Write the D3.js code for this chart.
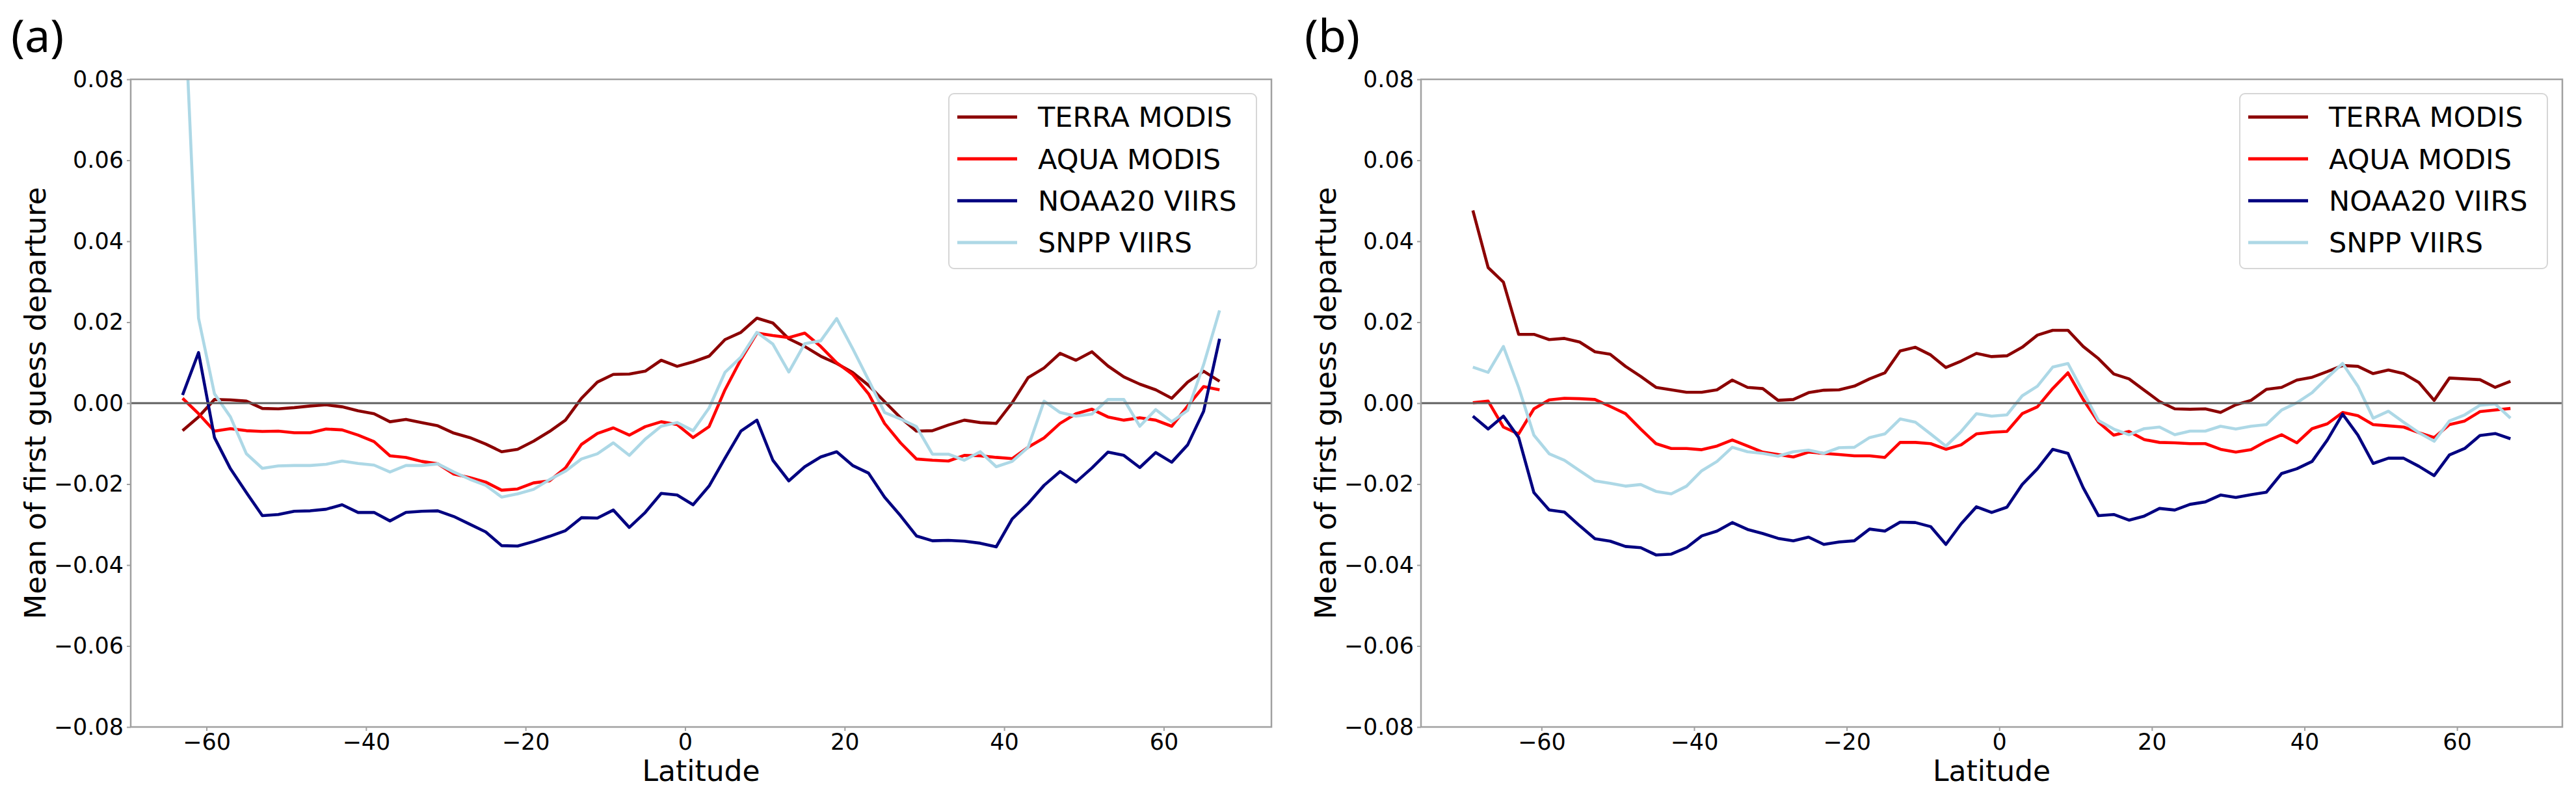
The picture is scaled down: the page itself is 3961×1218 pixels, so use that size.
<!DOCTYPE html>
<html>
<head>
<meta charset="utf-8">
<script src="https://cdn.jsdelivr.net/npm/d3@7"></script>
<style>
  html, body { margin: 0; padding: 0; background: #ffffff; }
  svg { display: block; }
  text { font-family: "DejaVu Sans", sans-serif; }
</style>
</head>
<body>
<svg id="chart" width="3961" height="1218"></svg>
<script>
// ---------------- data ----------------
const seriesNames = ["TERRA MODIS", "AQUA MODIS", "NOAA20 VIIRS", "SNPP VIIRS"];
const seriesColors = ["#8b0000", "#ff0000", "#000080", "#add8e6"];

const xTickValues = [-60, -40, -20, 0, 20, 40, 60];
const yTickValues = [-0.08, -0.06, -0.04, -0.02, 0.00, 0.02, 0.04, 0.06, 0.08];
const panelLabels = ["(a)", "(b)"];
const xAxisTitle = "Latitude";
const yAxisTitle = "Mean of first guess departure";

// Panel (a)
const latA = [-63,-61,-59,-57,-55,-53,-51,-49,-47,-45,-43,-41,-39,-37,-35,-33,-31,-29,-27,-25,-23,-21,-19,-17,-15,-13,-11,-9,-7,-5,-3,-1,
  1,3,5,7,9,11,13,15,17,19,21,23,25,27,29,31,33,35,37,39,41,43,45,47,49,51,53,55,57,59,61,63,65,67];
const terraA = [-0.0068,-0.0034,0.0009,0.0008,0.0005,-0.0013,-0.0014,-0.0011,-0.0007,-0.0004,-0.0009,-0.0019,-0.0026,-0.0046,-0.0040,-0.0048,-0.0056,-0.0074,-0.0085,-0.0101,-0.0120,-0.0114,-0.0094,-0.0070,-0.0042,0.0012,0.0052,0.0071,0.0072,0.0079,0.0106,0.0091,
  0.0102,0.0116,0.0157,0.0175,0.0210,0.0198,0.0159,0.0140,0.0116,0.0098,0.0076,0.0044,0.0004,-0.0036,-0.0069,-0.0068,-0.0054,-0.0042,-0.0048,-0.0050,0.0001,0.0063,0.0087,0.0123,0.0106,0.0127,0.0092,0.0065,0.0047,0.0033,0.0012,0.0052,0.0079,0.0054];
const aquaA = [0.0012,-0.0026,-0.0069,-0.0063,-0.0068,-0.0070,-0.0069,-0.0073,-0.0073,-0.0064,-0.0066,-0.0079,-0.0095,-0.0130,-0.0134,-0.0144,-0.0150,-0.0175,-0.0184,-0.0195,-0.0215,-0.0212,-0.0197,-0.0192,-0.0160,-0.0102,-0.0075,-0.0061,-0.0079,-0.0058,-0.0046,-0.0053,
  -0.0085,-0.0058,0.0033,0.0108,0.0173,0.0167,0.0162,0.0173,0.0140,0.0100,0.0071,0.0023,-0.0050,-0.0098,-0.0138,-0.0141,-0.0143,-0.0129,-0.0130,-0.0134,-0.0137,-0.0109,-0.0086,-0.0050,-0.0026,-0.0015,-0.0034,-0.0042,-0.0036,-0.0042,-0.0057,-0.0007,0.0041,0.0033];
const noaaA = [0.0020,0.0125,-0.0085,-0.0162,-0.0221,-0.0278,-0.0275,-0.0267,-0.0266,-0.0262,-0.0251,-0.0270,-0.0270,-0.0291,-0.0270,-0.0267,-0.0266,-0.0280,-0.0299,-0.0318,-0.0352,-0.0353,-0.0342,-0.0329,-0.0315,-0.0283,-0.0284,-0.0264,-0.0307,-0.0270,-0.0223,-0.0227,
  -0.0251,-0.0205,-0.0136,-0.0069,-0.0042,-0.0141,-0.0192,-0.0157,-0.0133,-0.0120,-0.0154,-0.0173,-0.0232,-0.0278,-0.0328,-0.0340,-0.0339,-0.0341,-0.0346,-0.0355,-0.0286,-0.0248,-0.0203,-0.0169,-0.0195,-0.0160,-0.0121,-0.0129,-0.0159,-0.0122,-0.0146,-0.0103,-0.0020,0.0159];
const snppA = [0.1100,0.0210,0.0023,-0.0034,-0.0125,-0.0161,-0.0155,-0.0154,-0.0154,-0.0151,-0.0143,-0.0149,-0.0153,-0.0170,-0.0154,-0.0154,-0.0150,-0.0170,-0.0188,-0.0203,-0.0232,-0.0224,-0.0213,-0.0189,-0.0168,-0.0138,-0.0125,-0.0098,-0.0129,-0.0089,-0.0057,-0.0048,
  -0.0068,-0.0012,0.0076,0.0114,0.0175,0.0146,0.0077,0.0147,0.0154,0.0209,0.0135,0.0057,-0.0023,-0.0039,-0.0058,-0.0126,-0.0126,-0.0141,-0.0120,-0.0157,-0.0144,-0.0109,0.0005,-0.0023,-0.0032,-0.0027,0.0009,0.0009,-0.0057,-0.0016,-0.0046,-0.0018,0.0095,0.0229];

// Panel (b)
const latB = [-69,-67,-65,-63,-61,-59,-57,-55,-53,-51,-49,-47,-45,-43,-41,-39,-37,-35,-33,-31,-29,-27,-25,-23,-21,-19,-17,-15,-13,-11,-9,-7,-5,-3,-1,
  1,3,5,7,9,11,13,15,17,19,21,23,25,27,29,31,33,35,37,39,41,43,45,47,49,51,53,55,57,59,61,63,65,67];
const terraB = [0.0476,0.0335,0.0299,0.0170,0.0170,0.0157,0.0160,0.0151,0.0127,0.0121,0.0091,0.0066,0.0039,0.0033,0.0027,0.0027,0.0033,0.0057,0.0039,0.0036,0.0007,0.0009,0.0026,0.0032,0.0033,0.0042,0.0060,0.0075,0.0129,0.0138,0.0119,0.0088,0.0104,0.0123,0.0115,
  0.0117,0.0138,0.0168,0.0180,0.0180,0.0140,0.0110,0.0072,0.0060,0.0032,0.0004,-0.0014,-0.0015,-0.0014,-0.0023,-0.0004,0.0007,0.0034,0.0039,0.0057,0.0064,0.0078,0.0093,0.0091,0.0073,0.0082,0.0073,0.0051,0.0007,0.0062,0.0060,0.0058,0.0039,0.0054];
const aquaB = [0.0001,0.0005,-0.0059,-0.0076,-0.0014,0.0008,0.0012,0.0011,0.0009,-0.0008,-0.0026,-0.0064,-0.0100,-0.0112,-0.0112,-0.0115,-0.0106,-0.0091,-0.0106,-0.0121,-0.0127,-0.0133,-0.0121,-0.0124,-0.0127,-0.0130,-0.0130,-0.0134,-0.0097,-0.0097,-0.0100,-0.0114,-0.0103,-0.0076,-0.0072,
  -0.0070,-0.0026,-0.0009,0.0036,0.0075,0.0009,-0.0047,-0.0079,-0.0070,-0.0090,-0.0097,-0.0098,-0.0100,-0.0100,-0.0114,-0.0121,-0.0115,-0.0094,-0.0078,-0.0098,-0.0063,-0.0051,-0.0023,-0.0031,-0.0053,-0.0056,-0.0059,-0.0073,-0.0085,-0.0053,-0.0044,-0.0021,-0.0017,-0.0013];
const noaaB = [-0.0032,-0.0064,-0.0032,-0.0085,-0.0221,-0.0264,-0.0269,-0.0303,-0.0335,-0.0341,-0.0354,-0.0357,-0.0375,-0.0373,-0.0357,-0.0328,-0.0316,-0.0295,-0.0312,-0.0322,-0.0334,-0.0340,-0.0331,-0.0349,-0.0343,-0.0340,-0.0311,-0.0316,-0.0294,-0.0295,-0.0305,-0.0349,-0.0298,-0.0256,-0.0270,
  -0.0257,-0.0201,-0.0162,-0.0114,-0.0124,-0.0209,-0.0278,-0.0275,-0.0289,-0.0279,-0.0260,-0.0264,-0.0250,-0.0244,-0.0227,-0.0233,-0.0226,-0.0220,-0.0174,-0.0162,-0.0144,-0.0091,-0.0027,-0.0079,-0.0149,-0.0136,-0.0136,-0.0156,-0.0179,-0.0128,-0.0112,-0.0080,-0.0075,-0.0088];
const snppB = [0.0089,0.0076,0.0140,0.0039,-0.0079,-0.0125,-0.0141,-0.0167,-0.0192,-0.0198,-0.0205,-0.0201,-0.0218,-0.0224,-0.0205,-0.0167,-0.0144,-0.0109,-0.0120,-0.0124,-0.0131,-0.0120,-0.0116,-0.0124,-0.0110,-0.0109,-0.0085,-0.0076,-0.0039,-0.0047,-0.0076,-0.0106,-0.0070,-0.0026,-0.0032,
  -0.0029,0.0018,0.0042,0.0089,0.0098,0.0027,-0.0043,-0.0064,-0.0078,-0.0063,-0.0059,-0.0078,-0.0069,-0.0069,-0.0057,-0.0064,-0.0057,-0.0053,-0.0017,0.0001,0.0026,0.0063,0.0098,0.0042,-0.0037,-0.0020,-0.0047,-0.0073,-0.0094,-0.0044,-0.0029,-0.0005,-0.0002,-0.0037];

// ---------------- drawing ----------------
const svg = d3.select("#chart");
svg.append("rect").attr("width", 3961).attr("height", 1218).attr("fill", "#fff");

const panels = [
  { id: "a", left: 201, right: 1955, lat: latA, series: [terraA, aquaA, noaaA, snppA], label: panelLabels[0], labelX: 17 },
  { id: "b", left: 2185, right: 3940, lat: latB, series: [terraB, aquaB, noaaB, snppB], label: panelLabels[1], labelX: 2006 }
];
const plotTop = 122, plotBottom = 1118;
const spineColor = "#a0a0a0";
const fmtY = d => (d < 0 ? "\u2212" : "") + Math.abs(d).toFixed(2);

panels.forEach(p => {
  const latMin = d3.min(p.lat), latMax = d3.max(p.lat);
  const pad = (latMax - latMin) * 0.05;
  const x = d3.scaleLinear().domain([latMin - pad, latMax + pad]).range([p.left, p.right]);
  const y = d3.scaleLinear().domain([-0.08, 0.08]).range([plotBottom, plotTop]);

  const g = svg.append("g");

  g.append("clipPath").attr("id", "clip-" + p.id)
    .append("rect").attr("x", p.left).attr("y", plotTop)
    .attr("width", p.right - p.left).attr("height", plotBottom - plotTop);

  const line = d3.line().x((d, i) => x(p.lat[i])).y(d => y(d));
  const lg = g.append("g").attr("clip-path", "url(#clip-" + p.id + ")");
  p.series.forEach((vals, k) => {
    lg.append("path").datum(vals)
      .attr("d", line)
      .attr("fill", "none")
      .attr("stroke", seriesColors[k])
      .attr("stroke-width", 4.6)
      .attr("stroke-linejoin", "round")
      .attr("stroke-linecap", "butt");
  });

  lg.append("line")
    .attr("x1", p.left).attr("x2", p.right)
    .attr("y1", y(0)).attr("y2", y(0))
    .attr("stroke", "#5f5f5f").attr("stroke-width", 3.2);

  const xAxis = d3.axisBottom(x).tickValues(xTickValues).tickSize(6).tickPadding(3)
    .tickFormat(d => (d < 0 ? "\u2212" : "") + Math.abs(d));
  const gx = g.append("g").attr("transform", `translate(0,${plotBottom})`).call(xAxis);
  const yAxis = d3.axisLeft(y).tickValues(yTickValues).tickSize(6).tickPadding(5).tickFormat(fmtY);
  const gy = g.append("g").attr("transform", `translate(${p.left},0)`).call(yAxis);
  [gx, gy].forEach(ax => {
    ax.select(".domain").remove();
    ax.selectAll(".tick line").attr("stroke", spineColor).attr("stroke-width", 2);
    ax.selectAll(".tick text").attr("fill", "#000").style("font-size", "35px")
      .style("font-family", "'DejaVu Sans', sans-serif");
  });
  gx.selectAll(".tick text").attr("dy", "0.75em");

  g.append("rect")
    .attr("x", p.left).attr("y", plotTop)
    .attr("width", p.right - p.left).attr("height", plotBottom - plotTop)
    .attr("fill", "none").attr("stroke", spineColor).attr("stroke-width", 2.5);

  g.append("text")
    .attr("x", (p.left + p.right) / 2).attr("y", 1201)
    .attr("text-anchor", "middle").style("font-size", "44px").text(xAxisTitle);
  g.append("text")
    .attr("transform", `translate(${p.left - 131},${(plotTop + plotBottom) / 2}) rotate(-90)`)
    .attr("text-anchor", "middle").style("font-size", "45px").text(yAxisTitle);

  g.append("text")
    .attr("x", p.labelX).attr("y", 80)
    .style("font-family", "'Noto Sans', 'Open Sans', sans-serif")
    .style("font-size", "70px").text(p.label);

  const boxR = p.right - 23, boxL = boxR - 473, boxT = 144, boxB = 413;
  const leg = g.append("g");
  leg.append("rect")
    .attr("x", boxL).attr("y", boxT).attr("width", boxR - boxL).attr("height", boxB - boxT)
    .attr("rx", 8).attr("ry", 8)
    .attr("fill", "#fff").attr("fill-opacity", 0.8)
    .attr("stroke", "#d6d6d6").attr("stroke-width", 2);
  const rowY = d3.scalePoint().domain(seriesNames).range([180, 373]);
  seriesNames.forEach((name, k) => {
    leg.append("line")
      .attr("x1", boxL + 13).attr("x2", boxL + 105)
      .attr("y1", rowY(name)).attr("y2", rowY(name))
      .attr("stroke", seriesColors[k]).attr("stroke-width", 5);
    leg.append("text")
      .attr("x", boxL + 137).attr("y", rowY(name))
      .attr("dy", "0.36em")
      .style("font-size", "43px").text(name);
  });
});
</script>
</body>
</html>
